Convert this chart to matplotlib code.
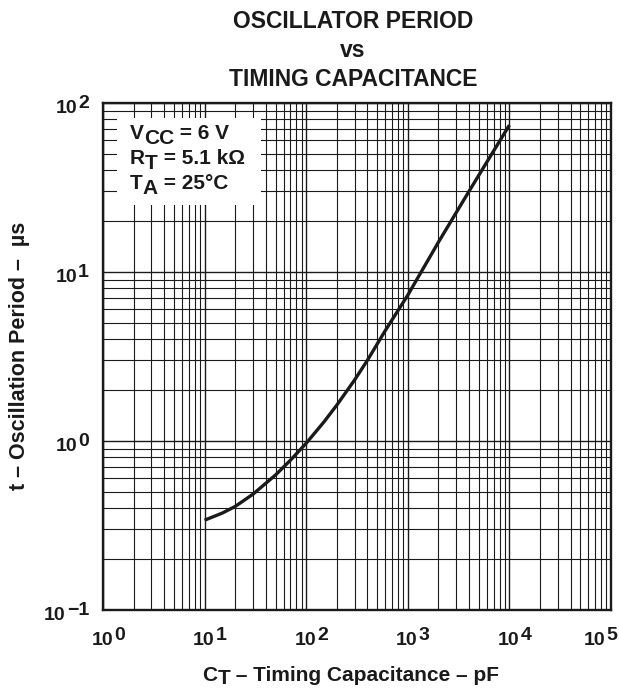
import numpy as np
import matplotlib
matplotlib.use("Agg")
import matplotlib.pyplot as plt
import matplotlib.patches as mpatches
from matplotlib.ticker import LogLocator, NullFormatter
from matplotlib.transforms import IdentityTransform

plt.rcParams['font.family'] = ['Liberation Sans', 'DejaVu Sans']

# ---- data ----
capacitance_pF = [10, 15, 20, 30, 50, 70, 100, 150, 200, 300, 400, 600, 1000, 2000, 4000, 10000]
period_us = [0.34, 0.375, 0.41, 0.485, 0.63, 0.77, 0.97, 1.3, 1.63, 2.3, 3.0, 4.5, 7.3, 15.0, 30.0, 74.0]

x_tick_exponents = ["0", "1", "2", "3", "4", "5"]
y_tick_exponents = ["\u22121", "0", "1", "2"]
title_lines = ["OSCILLATOR PERIOD", "vs", "TIMING CAPACITANCE"]
legend_lines = [("V", "CC", " = 6 V"), ("R", "T", " = 5.1 k\u03a9"), ("T", "A", " = 25\u00b0C")]
x_label = ("C", "T", " \u2013 Timing Capacitance \u2013 pF")
y_label = "t \u2013 Oscillation Period \u2013  \u00b5s"

W, H = 619, 689
INK = '#1a1a1a'
fig = plt.figure(figsize=(W / 100, H / 100), dpi=100)

L, R, T, B = 103, 611, 103, 610
ax = fig.add_axes([L / W, 1 - B / H, (R - L) / W, (B - T) / H])
ax.set_xscale('log')
ax.set_yscale('log')
ax.set_xlim(1, 1e5)
ax.set_ylim(0.1, 100)
for axis in (ax.xaxis, ax.yaxis):
    axis.set_major_locator(LogLocator(base=10, numticks=20))
    axis.set_minor_locator(LogLocator(base=10, subs=np.arange(2, 10), numticks=100))
    axis.set_minor_formatter(NullFormatter())
ax.set_axisbelow(True)
ax.grid(True, which='major', color=INK, lw=1.0)
ax.grid(True, which='minor', color=INK, lw=0.8)
ax.tick_params(which='both', length=0, labelbottom=False, labelleft=False)
for sp in ax.spines.values():
    sp.set_linewidth(1.7)
    sp.set_color(INK)

# white legend panel over the grid
ax.add_patch(mpatches.Rectangle((0.028, 0.799), 0.284, 0.171, transform=ax.transAxes,
                                facecolor='white', edgecolor='none', zorder=1.5))

ax.plot(capacitance_pF, period_us, color=INK, lw=2.4, zorder=3, solid_capstyle='butt')

renderer = fig.canvas.get_renderer()


def rich(pieces, x, y, ha='left', size=14, gap=0):
    """pieces: list of (text, dy_px); x, y in pixels from the top-left; y is baseline."""
    ts = []
    for s, dy in pieces:
        t = fig.text(0, 0, s, fontsize=size, fontweight='bold', va='baseline', ha='left',
                     transform=IdentityTransform(), color=INK)
        ts.append((t, dy))
    widths = [t.get_window_extent(renderer).width for t, _ in ts]
    total = sum(widths) + gap * (len(ts) - 1)
    X = x - {'left': 0, 'center': total / 2, 'right': total}[ha]
    Y = H - y
    for (t, dy), w in zip(ts, widths):
        t.set_position((X, Y - dy))
        X += w + gap


# title
for i, line in enumerate(title_lines):
    fig.text(353 / W, 1 - (28 + 29 * i) / H, line, fontsize=16.5, fontweight='bold',
             ha='center', va='baseline', color=INK)

# tick labels
for k, e in enumerate(x_tick_exponents):
    xp = L + (R - L) * k / 5
    if k == 5:
        rich([("10", 0), (e, -5)], 617, 645, ha='right', size=14, gap=1)
    else:
        rich([("10", 0), (e, -5)], xp + 5, 645, ha='center', size=14, gap=1)
for k, e in enumerate(y_tick_exponents):
    yp = B - (B - T) * k / 3
    rich([("10", 0), (e, -5)], 89, yp + 10, ha='right', size=14, gap=1)

# legend text
for i, (a, sub, rest) in enumerate(legend_lines):
    rich([(a, 0), (sub, 5), (rest, 0)], 130, 139 + 25 * i, ha='left', size=15)

# axis labels
rich([(x_label[0], 0), (x_label[1], 3), (x_label[2], 0)], 351, 681, ha='center', size=15)
fig.text(20 / W, 1 - 356 / H, y_label, rotation=90, fontsize=15.5, fontweight='bold',
         ha='center', va='center', color=INK)

fig.savefig('out.png', dpi=100)
